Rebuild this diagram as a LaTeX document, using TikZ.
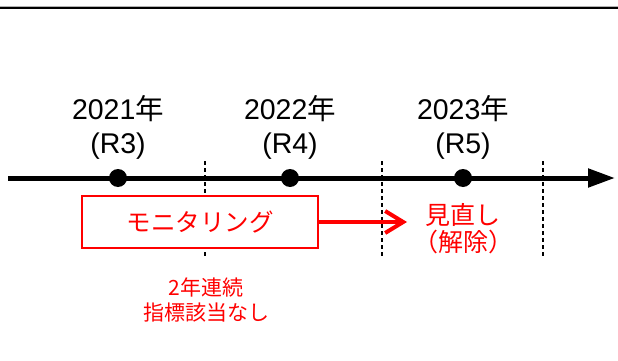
\documentclass[tikz,border=0pt]{standalone}
\usepackage{fontspec}
\setmainfont{Liberation Sans}
\newfontfamily\jp{Noto Sans CJK JP}
\usetikzlibrary{arrows.meta, positioning}

\tikzset{
  yearlbl/.style={align=center, inner sep=0pt, font=\fontsize{28.5}{34}\selectfont},
  dot/.style={circle, fill=black, minimum size=18pt, inner sep=0pt},
  divider/.style={line width=1.5pt, dash pattern=on 4pt off 3pt},
  redtxt/.style={text=red, align=center, inner sep=0pt}
}

\begin{document}
\begin{tikzpicture}[x=1pt, y=-1pt]
\useasboundingbox (0,0) rectangle (618,361);

% Rule at the top
\coordinate (ruleL) at (0,6.5);
\coordinate (ruleR) at (618,6.5);
\coordinate (ruleBL) at (0,8);
\coordinate (ruleBR) at (618,8);
\draw[gray!60, line width=1pt] (ruleL) -- (ruleR);
\draw[line width=2pt] (ruleBL) -- (ruleBR);

% Time axis
\coordinate (axisL) at (8,178);
\coordinate (axisR) at (615,178);
\draw[line width=5pt, -{Triangle[length=27pt, width=18pt]}] (axisL) -- (axisR);

% Year dividers
\coordinate (divAt) at (205,161);
\coordinate (divAb) at (205,258);
\coordinate (divBt) at (382,161);
\coordinate (divBb) at (382,258);
\coordinate (divCt) at (543,161);
\coordinate (divCb) at (543,258);
\draw[divider] (divAt) -- (divAb);
\draw[divider] (divBt) -- (divBb);
\draw[divider] (divCt) -- (divCb);

% Years
\node[dot] (d21) at (118,178) {};
\node[dot] (d22) at (290,178) {};
\node[dot] (d23) at (463,178) {};

\node[yearlbl, above=9pt of d21] (y21) {2021{\jp 年}\\(R3)};
\node[yearlbl, above=9pt of d22] (y22) {2022{\jp 年}\\(R4)};
\node[yearlbl, above=9pt of d23] (y23) {2023{\jp 年}\\(R5)};

% Monitoring box and arrow
\node[draw=red, line width=1.5pt, fill=white, text=red, minimum width=236pt,
      minimum height=52pt, font=\fontsize{24.5}{28}\jp] (mon) at (200,222) {モニタリング};
\coordinate (arrowEnd) at (407,222);
\draw[red, line width=4pt, -{Straight Barb[length=18pt, width=22pt]}] (mon.east) -- (arrowEnd);

% Red notes
\node[redtxt, font=\fontsize{25}{27}\jp] (review) at (463,229) {見直し\\（解除）};
\node[redtxt, font=\fontsize{21}{25}\jp] (note) at (206,300) {2年連続\\指標該当なし};

\end{tikzpicture}
\end{document}
